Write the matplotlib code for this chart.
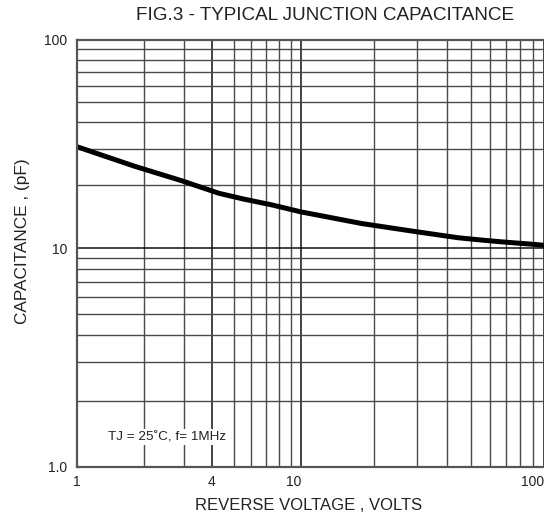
import numpy as np
import matplotlib
matplotlib.use("Agg")
import matplotlib.pyplot as plt
from matplotlib.ticker import FixedLocator, NullFormatter

plt.rcParams['font.family'] = ['Liberation Sans', 'DejaVu Sans']

# reverse voltage (V) vs junction capacitance (pF)
voltage = [1, 1.8, 2.94, 4.3, 5.5, 7.4, 10, 17.8, 29.4, 44.3, 56.1, 67.1, 91.8, 100]
capacitance = [30.6, 24.7, 21.0, 18.3, 17.2, 16.1, 14.9, 13.1, 12.0, 11.2, 10.9, 10.7, 10.4, 10.3]

x_ticks = [1, 4, 10, 100]
x_ticklabels = ['1', '4', '10', '100']
y_ticks = [1, 10, 100]
y_ticklabels = ['1.0', '10', '100']


# the printed chart paper has decades of slightly unequal length
def decade_scale(first, second):
    def fwd(v):
        lv = np.log10(np.clip(v, 1e-6, None))
        return np.where(lv <= 1, lv * first, first + (lv - 1) * second)

    def inv(u):
        u = np.asarray(u, dtype=float)
        return np.where(u <= first, 10 ** (u / first), 10 ** (1 + (u - first) / second))
    return fwd, inv


fig = plt.figure(figsize=(5.44, 5.17), dpi=100)
ax = fig.add_axes([77 / 544, 50.3 / 517, 1 - 77 / 544, 427.2 / 517])
ax.set_xscale('function', functions=decade_scale(224, 243))
ax.set_yscale('function', functions=decade_scale(218.7, 208.5))
ax.set_xlim(1, 100)
ax.set_ylim(1, 100)

ax.set_xticks(x_ticks)
ax.set_xticklabels(x_ticklabels)
ax.set_yticks(y_ticks)
ax.set_yticklabels(y_ticklabels)
minor = [m * d for d in (1, 10) for m in range(2, 10)]
ax.xaxis.set_minor_locator(FixedLocator(minor))
ax.yaxis.set_minor_locator(FixedLocator(minor))
ax.xaxis.set_minor_formatter(NullFormatter())
ax.yaxis.set_minor_formatter(NullFormatter())
ax.tick_params(which='both', length=0, labelsize=10, colors='#222222')
ax.tick_params(axis='x', pad=6)
ax.tick_params(axis='y', pad=7)
for lab in ax.get_xticklabels():
    if lab.get_text() in ('10', '100'):
        lab.set_horizontalalignment('right')

ax.grid(which='major', color='#111111', linewidth=1.1)
ax.grid(which='minor', color='#4a4a4a', linewidth=1.0)
for s in ax.spines.values():
    s.set_color('#555555')
    s.set_linewidth(1.6)
ax.spines['right'].set_visible(False)

ax.plot(voltage, capacitance, color='black', linewidth=3.6,
        solid_capstyle='butt', solid_joinstyle='round')

ax.text(1.375, 1.367, 'TJ = 25˚C, f= 1MHz', fontsize=9.7, color='#222222',
        va='center', ha='left',
        bbox=dict(facecolor='white', edgecolor='none', pad=1.5))

ax.set_xlabel('REVERSE VOLTAGE , VOLTS', fontsize=12, color='#222222')
ax.xaxis.set_label_coords(231.5 / 467, -31 / 427.2)
ax.set_ylabel('CAPACITANCE , (pF)', fontsize=12.4, color='#222222')
ax.yaxis.set_label_coords(-47 / 467, (466.7 - 241) / 427.2)
fig.text(325 / 544, 1 - 16 / 517, 'FIG.3 - TYPICAL JUNCTION CAPACITANCE',
         ha='center', va='center', fontsize=13.6, color='#222222')

fig.savefig('out.png', dpi=100)
